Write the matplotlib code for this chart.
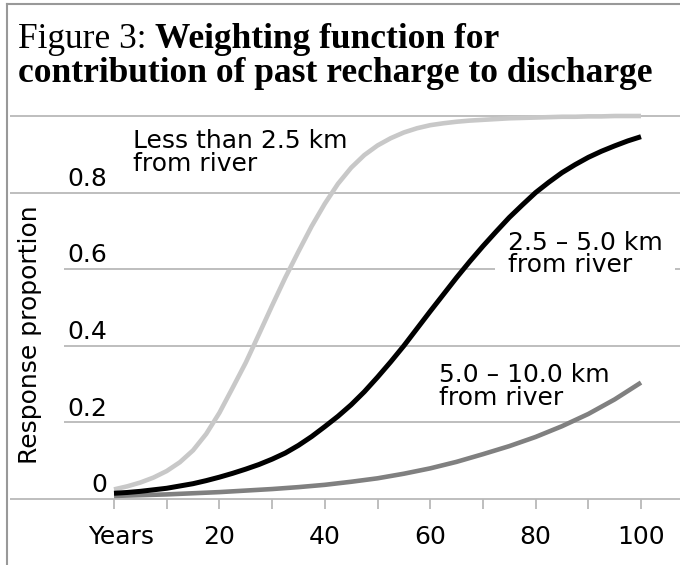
import matplotlib
matplotlib.use("Agg")
import matplotlib.pyplot as plt
from matplotlib.lines import Line2D

years = [0, 2.5, 5, 7.5, 10, 12.5, 15, 17.5, 20, 22.5, 25, 27.5, 30, 32.5, 35, 37.5,
         40, 42.5, 45, 47.5, 50, 52.5, 55, 57.5, 60, 62.5, 65, 67.5, 70, 72.5, 75,
         77.5, 80, 82.5, 85, 87.5, 90, 92.5, 95, 97.5, 100]
near = [0.025, 0.033, 0.043, 0.056, 0.073, 0.096, 0.127, 0.17, 0.225, 0.29, 0.356,
        0.43, 0.505, 0.578, 0.646, 0.712, 0.771, 0.823, 0.865, 0.898, 0.923, 0.942,
        0.957, 0.968, 0.976, 0.981, 0.985, 0.988, 0.99, 0.992, 0.994, 0.995, 0.996,
        0.997, 0.998, 0.998, 0.999, 0.999, 1.0, 1.0, 1.0]
mid = [0.015, 0.017, 0.02, 0.024, 0.028, 0.034, 0.04, 0.048, 0.057, 0.067, 0.078,
       0.09, 0.104, 0.12, 0.14, 0.163, 0.189, 0.216, 0.246, 0.28, 0.318, 0.358,
       0.40, 0.445, 0.49, 0.534, 0.578, 0.62, 0.66, 0.698, 0.735, 0.768, 0.80,
       0.827, 0.852, 0.873, 0.892, 0.908, 0.922, 0.935, 0.946]
years_far = [0, 5, 10, 15, 20, 25, 30, 35, 40, 45, 50,
             55, 60, 65, 70, 75, 80, 85, 90, 95, 100]
far = [0.008, 0.01, 0.012, 0.015, 0.018, 0.022, 0.026, 0.031, 0.037, 0.045, 0.054,
       0.066, 0.08, 0.097, 0.117, 0.138, 0.162, 0.19, 0.222, 0.26, 0.304]

x_ticks = [0, 10, 20, 30, 40, 50, 60, 70, 80, 90, 100]
x_labels = {0: "Years", 20: "20", 40: "40", 60: "60", 80: "80", 100: "100"}
y_grid = [1.0, 0.8, 0.6, 0.4, 0.2, 0.0]
y_labels = {0.8: "0.8", 0.6: "0.6", 0.4: "0.4", 0.2: "0.2", 0.0: "0"}

W, H = 680, 565
fig = plt.figure(figsize=(W / 100, H / 100), dpi=100)
plt.rcParams["font.family"] = ["DejaVu Sans"]

# axes fill the area under the title; pixel -> data mapping
ax = fig.add_axes([10 / W, 0, 670 / W, (H - 112) / H])
px0, px_per_year = 114, 5.27
ax.set_xlim((10 - px0) / px_per_year, (680 - px0) / px_per_year)
ax.set_ylim((499 - 565) / 383, (499 - 112) / 383)
ax.axis("off")

grid_c = "#b9b9b9"
for v in y_grid:
    left = (10 - px0) / px_per_year if v in (1.0, 0.8, 0.0) else (64 - px0) / px_per_year
    ax.hlines(v, left, (680 - px0) / px_per_year, color=grid_c, lw=1.3, zorder=1)

ax.vlines(x_ticks, -0.026, 0, color=grid_c, lw=1.3, zorder=1)
for t, lab in x_labels.items():
    xt = t + 1.4 if t == 0 else t
    ax.text(xt, -0.1, lab, ha="center", va="center", fontsize=18)
for v, lab in y_labels.items():
    ax.text(-1.3, v + 0.018, lab, ha="right", va="baseline", fontsize=18)

ax.text(-16.0, 0.43, "Response proportion", rotation=90, ha="center", va="center",
        fontsize=18)

ax.plot(years, near, color="#c8c8c8", lw=3.3, solid_capstyle="butt", zorder=6)
ax.plot(years_far, far, color="#808080", lw=3.3, solid_capstyle="butt", zorder=6)
ax.plot(years, mid, color="black", lw=3.6, solid_capstyle="butt", zorder=7)

ax.text(3.6, 0.965, "Less than 2.5 km\nfrom river", ha="left", va="top",
        fontsize=18, linespacing=0.92, zorder=5)
ax.text(74.7, 0.70, "2.5 – 5.0 km\nfrom river", ha="left", va="top",
        fontsize=18, linespacing=0.92, zorder=5,
        bbox=dict(facecolor="white", edgecolor="none", pad=9))
ax.text(61.7, 0.355, "5.0 – 10.0 km\nfrom river", ha="left", va="top",
        fontsize=18, linespacing=0.92, zorder=5)

# frame lines on the left and top
fig.add_artist(Line2D([7 / W, 7 / W], [0, 1 - 4 / H], color="#999999", lw=1.5))
fig.add_artist(Line2D([7 / W, 1], [1 - 4 / H, 1 - 4 / H], color="#999999", lw=1.5))

serif = ["Liberation Serif", "DejaVu Serif"]
t1 = fig.text(18 / W, 1 - 48 / H, "Figure 3: ", family=serif, fontsize=25.5,
              va="baseline")
fig.canvas.draw()
bb = t1.get_window_extent()
fig.text(bb.x1 / W, 1 - 48 / H, "Weighting function for", family=serif,
         fontsize=25.5, fontweight="bold", va="baseline")
fig.text(18 / W, 1 - 82 / H, "contribution of past recharge to discharge",
         family=serif, fontsize=25.5, fontweight="bold", va="baseline")

fig.savefig("out.png", dpi=100)
